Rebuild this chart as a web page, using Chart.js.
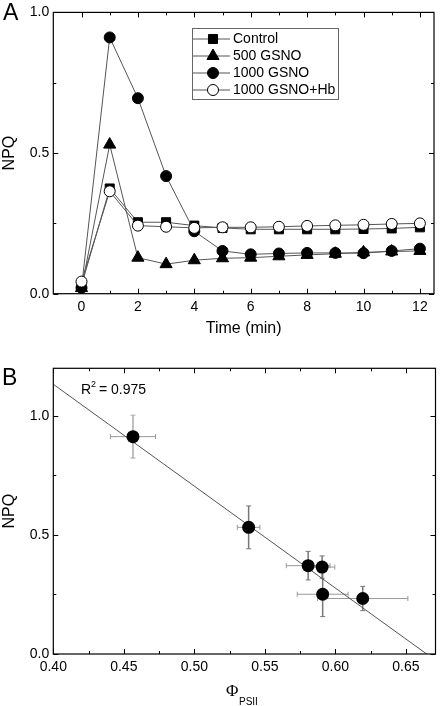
<!DOCTYPE html>
<html>
<head>
<meta charset="utf-8">
<script src="https://cdn.jsdelivr.net/npm/chart.js@4/dist/chart.umd.min.js"></script>
<style>
  body { margin: 0; background: #fff; }
  #wrapA { position: absolute; left: 0; top: 0; width: 442px; height: 338px; }
  #wrapB { position: absolute; left: 0; top: 338px; width: 442px; height: 368px; }
</style>
</head>
<body>
<div id="wrapA"><canvas id="chartA" width="442" height="338"></canvas></div>
<div id="wrapB"><canvas id="chartB" width="442" height="368"></canvas></div>
<script>
// ---- panel A: NPQ vs time ----
var timeMin    = [0, 1, 2, 3, 4, 5, 6, 7, 8, 9, 10, 11, 12];
var npqControl = [0.03, 0.374, 0.254, 0.254, 0.242, 0.234, 0.229, 0.229, 0.229, 0.229, 0.230, 0.232, 0.236];
var npq500     = [0.02, 0.530, 0.128, 0.105, 0.119, 0.126, 0.128, 0.133, 0.138, 0.142, 0.147, 0.150, 0.152];
var npq1000    = [0.021, 0.911, 0.695, 0.418, 0.222, 0.152, 0.140, 0.143, 0.145, 0.145, 0.144, 0.152, 0.160];
var npq1000Hb  = [0.043, 0.364, 0.242, 0.238, 0.234, 0.236, 0.236, 0.238, 0.241, 0.243, 0.245, 0.248, 0.250];
var seriesNames = ['Control', '500 GSNO', '1000 GSNO', '1000 GSNO+Hb'];
var xTicksA = [0, 2, 4, 6, 8, 10, 12];
var xMinorA = [1, 3, 5, 7, 9, 11];
var yTicksA = [0, 0.5, 1.0];
var yMinorA = [0.25, 0.75];

// ---- panel B: NPQ vs PhiPSII ----
var phiPSII = [0.4565, 0.5385, 0.5807, 0.5906, 0.5910, 0.6194];
var phiErr  = [0.016, 0.008, 0.0155, 0.009, 0.018, 0.032];
var npqB    = [0.913, 0.532, 0.371, 0.365, 0.251, 0.233];
var npqErr  = [0.09, 0.09, 0.06, 0.047, 0.094, 0.051];
var fitIntercept = 2.845;
var fitSlope = -4.28;
var xTicksB = [0.40, 0.45, 0.50, 0.55, 0.60, 0.65];
var xMinorB = [0.425, 0.475, 0.525, 0.575, 0.625];
var yTicksB = [0, 0.5, 1.0];
var yMinorB = [0.25, 0.75];

var FONT = "'Liberation Sans', Arial, sans-serif";
Chart.defaults.font.family = FONT;
Chart.defaults.color = '#000';

// frame + inward ticks, Origin style
function framePlugin(majX, minX, majY, minY) {
  return {
    id: 'frame',
    afterDraw: function(chart) {
      var ctx = chart.ctx, a = chart.chartArea;
      var sx = chart.scales.x, sy = chart.scales.y;
      ctx.save();
      ctx.strokeStyle = '#000';
      ctx.lineWidth = 1.2;
      ctx.strokeRect(a.left, a.top, a.right - a.left, a.bottom - a.top);
      ctx.lineWidth = 1;
      function tx(v, len) {
        var p = Math.round(sx.getPixelForValue(v)) + 0.5;
        ctx.beginPath();
        ctx.moveTo(p, a.bottom); ctx.lineTo(p, a.bottom - len);
        ctx.moveTo(p, a.top); ctx.lineTo(p, a.top + len);
        ctx.stroke();
      }
      function ty(v, len) {
        var p = Math.round(sy.getPixelForValue(v)) + 0.5;
        ctx.beginPath();
        ctx.moveTo(a.left, p); ctx.lineTo(a.left + len, p);
        ctx.moveTo(a.right, p); ctx.lineTo(a.right - len, p);
        ctx.stroke();
      }
      majX.forEach(function(v) { tx(v, 5); });
      minX.forEach(function(v) { tx(v, 3); });
      majY.forEach(function(v) { ty(v, 5); });
      minY.forEach(function(v) { ty(v, 3); });
      ctx.restore();
    }
  };
}

function toPts(xs, ys) {
  return xs.map(function(x, i) { return {x: x, y: ys[i]}; });
}

var styleA = [
  {style: 'rect', radius: 6.4, fill: '#000'},
  {style: 'triangle', radius: 7, fill: '#000'},
  {style: 'circle', radius: 5.5, fill: '#000'},
  {style: 'circle', radius: 5.5, fill: '#fff'}
];
var valuesA = [npqControl, npq500, npq1000, npq1000Hb];

var legendA = {
  id: 'legendA',
  afterDraw: function(chart) {
    var ctx = chart.ctx;
    ctx.save();
    ctx.strokeStyle = '#666';
    ctx.lineWidth = 1;
    ctx.strokeRect(192.5, 28.5, 146, 71);
    ctx.font = '14px ' + FONT;
    ctx.textBaseline = 'middle';
    ctx.fillStyle = '#000';
    seriesNames.forEach(function(name, i) {
      var y = 39 + i * 17;
      ctx.strokeStyle = '#555';
      ctx.beginPath(); ctx.moveTo(193, y); ctx.lineTo(230, y); ctx.stroke();
      ctx.fillStyle = styleA[i].fill;
      ctx.strokeStyle = '#000';
      Chart.helpers.drawPoint(ctx, {pointStyle: styleA[i].style, radius: styleA[i].radius, rotation: 0, borderWidth: 1}, 213, y);
      ctx.fillStyle = '#000';
      ctx.fillText(name, 233, y);
    });
    ctx.font = '23px ' + FONT;
    ctx.textBaseline = 'alphabetic';
    ctx.fillText('A', 3, 20);
    ctx.restore();
  }
};

new Chart(document.getElementById('chartA'), {
  type: 'line',
  data: {
    datasets: seriesNames.map(function(name, i) {
      return {
        label: name,
        data: toPts(timeMin, valuesA[i]),
        borderColor: '#555',
        borderWidth: 1,
        pointStyle: styleA[i].style,
        pointRadius: styleA[i].radius,
        pointBackgroundColor: styleA[i].fill,
        pointBorderColor: '#000',
        pointBorderWidth: 1,
        tension: 0,
        order: 4 - i
      };
    })
  },
  options: {
    responsive: false,
    animation: false,
    layout: {padding: {top: 8, right: 3.3, left: 0, bottom: 0}},
    plugins: {legend: {display: false}, tooltip: {enabled: false}},
    scales: {
      x: {
        type: 'linear', min: -1, max: 12.5,
        grid: {display: false, drawTicks: false},
        border: {display: false},
        afterBuildTicks: function(s) { s.ticks = xTicksA.map(function(v) { return {value: v}; }); },
        afterFit: function(s) { s.height = 44.3; },
        ticks: {font: {size: 14}, padding: 5, maxRotation: 0, callback: function(v) { return v; }},
        title: {display: true, text: 'Time (min)', font: {size: 16}, padding: 0}
      },
      y: {
        min: 0, max: 1.0,
        grid: {display: false, drawTicks: false},
        border: {display: false},
        afterBuildTicks: function(s) { s.ticks = yTicksA.map(function(v) { return {value: v}; }); },
        afterFit: function(s) { s.width = 53.3; },
        ticks: {font: {size: 14}, padding: 4, callback: function(v) { return v.toFixed(1); }},
        title: {display: true, text: 'NPQ', font: {size: 16}, padding: 0}
      }
    }
  },
  plugins: [framePlugin(xTicksA, xMinorA, yTicksA, yMinorA), legendA]
});

// ---- chart B ----
var errorBars = {
  id: 'errorBars',
  beforeDatasetsDraw: function(chart) {
    var ctx = chart.ctx, sx = chart.scales.x, sy = chart.scales.y;
    ctx.save();
    phiPSII.forEach(function(xv, i) {
      var px = sx.getPixelForValue(xv), py = sy.getPixelForValue(npqB[i]);
      var x1 = sx.getPixelForValue(xv - phiErr[i]), x2 = sx.getPixelForValue(xv + phiErr[i]);
      var y1 = sy.getPixelForValue(npqB[i] - npqErr[i]), y2 = sy.getPixelForValue(npqB[i] + npqErr[i]);
      ctx.strokeStyle = '#999';
      ctx.lineWidth = 1;
      ctx.beginPath();
      ctx.moveTo(x1, py); ctx.lineTo(x2, py);
      ctx.moveTo(x1, py - 2.5); ctx.lineTo(x1, py + 2.5);
      ctx.moveTo(x2, py - 2.5); ctx.lineTo(x2, py + 2.5);
      ctx.stroke();
      ctx.strokeStyle = i === 0 ? '#aaa' : '#777';
      ctx.lineWidth = 1.5;
      ctx.beginPath();
      ctx.moveTo(px, y1); ctx.lineTo(px, y2);
      ctx.stroke();
      ctx.lineWidth = 1;
      ctx.beginPath();
      ctx.moveTo(px - 2.5, y1); ctx.lineTo(px + 2.5, y1);
      ctx.moveTo(px - 2.5, y2); ctx.lineTo(px + 2.5, y2);
      ctx.stroke();
    });
    ctx.restore();
  }
};

var textB = {
  id: 'textB',
  afterDraw: function(chart) {
    var ctx = chart.ctx;
    ctx.save();
    ctx.fillStyle = '#000';
    ctx.textBaseline = 'alphabetic';
    ctx.font = '23px ' + FONT;
    ctx.fillText('B', 2, 47);
    ctx.font = '14px ' + FONT;
    ctx.fillText('R', 81, 56);
    ctx.font = '9px ' + FONT;
    ctx.fillText('2', 91, 49);
    ctx.font = '14px ' + FONT;
    ctx.fillText(' = 0.975', 95, 56);
    ctx.font = "17px 'Liberation Serif', serif";
    ctx.fillText('\u03A6', 226, 358);
    ctx.font = '10px ' + FONT;
    ctx.fillText('PSII', 239, 367);
    ctx.restore();
  }
};

var xMinB = 0.40;
var xZeroB = -fitIntercept / fitSlope;

new Chart(document.getElementById('chartB'), {
  type: 'scatter',
  data: {
    datasets: [
      {
        type: 'scatter',
        data: toPts(phiPSII, npqB),
        pointRadius: 6.5,
        pointBackgroundColor: '#000',
        pointBorderColor: '#000',
        pointBorderWidth: 0,
        order: 1
      },
      {
        type: 'line',
        data: [
          {x: xMinB, y: fitIntercept + fitSlope * xMinB},
          {x: xZeroB, y: fitIntercept + fitSlope * xZeroB}
        ],
        borderColor: '#555',
        borderWidth: 1,
        pointRadius: 0,
        order: 2
      }
    ]
  },
  options: {
    responsive: false,
    animation: false,
    layout: {padding: {top: 30.3, right: 3.3, left: 0, bottom: 0}},
    plugins: {legend: {display: false}, tooltip: {enabled: false}},
    scales: {
      x: {
        type: 'linear', min: 0.40, max: 0.671,
        grid: {display: false, drawTicks: false},
        border: {display: false},
        afterBuildTicks: function(s) { s.ticks = xTicksB.map(function(v) { return {value: v}; }); },
        afterFit: function(s) { s.height = 52; },
        ticks: {font: {size: 14}, padding: 5, maxRotation: 0, callback: function(v) { return v.toFixed(2); }},
        title: {display: false}
      },
      y: {
        min: 0, max: 1.2,
        grid: {display: false, drawTicks: false},
        border: {display: false},
        afterBuildTicks: function(s) { s.ticks = yTicksB.map(function(v) { return {value: v}; }); },
        afterFit: function(s) { s.width = 53.3; },
        ticks: {font: {size: 14}, padding: 4, callback: function(v) { return v.toFixed(1); }},
        title: {display: true, text: 'NPQ', font: {size: 16}, padding: 0}
      }
    }
  },
  plugins: [framePlugin(xTicksB, xMinorB, yTicksB, yMinorB), errorBars, textB]
});
</script>
</body>
</html>
